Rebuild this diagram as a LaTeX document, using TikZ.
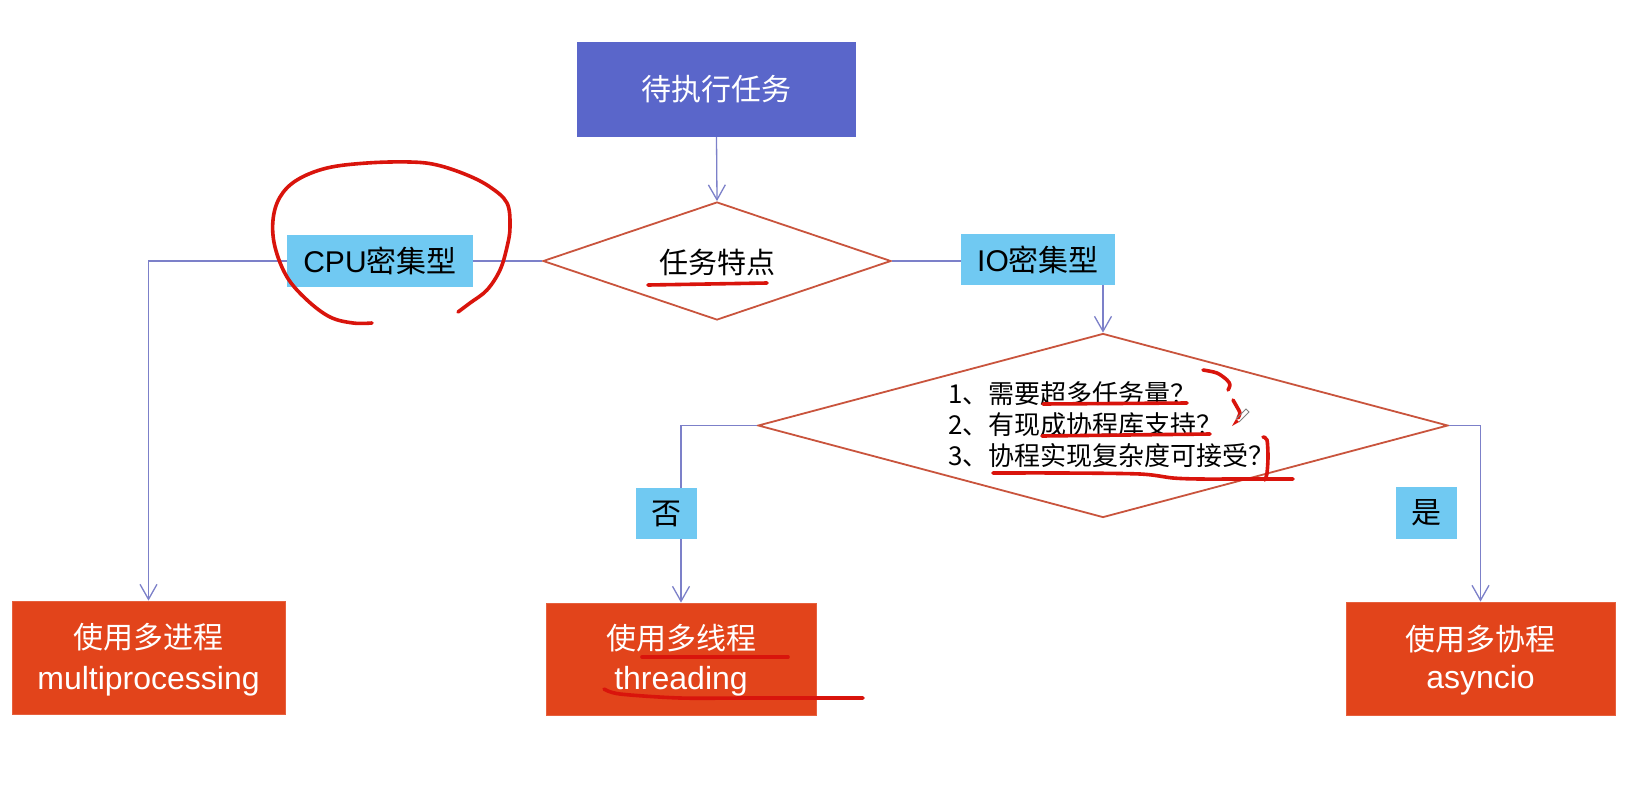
\documentclass[tikz,border=0pt]{standalone}
\usepackage{fontspec}
\setmainfont{Liberation Sans}
\newfontfamily\cjk{Noto Sans CJK SC}
\usetikzlibrary{shapes.geometric,arrows.meta,calc}
\definecolor{taskblue}{HTML}{5A66CA}
\definecolor{tagblue}{HTML}{70C9F2}
\definecolor{boxred}{HTML}{E2441B}
\definecolor{dstroke}{HTML}{C9543D}
\definecolor{connc}{HTML}{7C80C9}
\definecolor{penred}{HTML}{D9140C}
\begin{document}
\begin{tikzpicture}[x=1pt,y=-1pt,
  line/.style={draw=connc,line width=1.3pt},
  arr/.style={line,-{Straight Barb[length=15pt,width=17pt]}},
  decision/.style={shape=diamond,draw=dstroke,line width=1.8pt,fill=white,inner sep=0pt},
  tag/.style={fill=tagblue,inner sep=0pt,font=\fontsize{30}{36}\selectfont,text=black},
  outbox/.style={fill=boxred,draw=boxred!85!white,line width=0.8pt,inner sep=0pt},
  cjkw/.style={text=white,inner sep=0pt,font=\cjk\fontsize{30}{36}\selectfont},
  latw/.style={text=white,inner sep=0pt,anchor=base,font=\fontsize{32}{38}\selectfont},
  qtext/.style={anchor=west,inner sep=0pt,text=black,font=\cjk\fontsize{26}{30}\selectfont},
  pen/.style={draw=penred,line width=3.6pt,line cap=round,line join=round}]
\useasboundingbox (0,0) rectangle (1630,798);
\fill[white] (0,0) rectangle (1630,798);

% main shapes
\node[fill=taskblue,inner sep=0pt,minimum width=279pt,minimum height=95pt,text=white,font=\cjk\fontsize{30}{36}\selectfont] (task) at (716.5,89.5) {待执行任务};
\node[decision,minimum width=348pt,minimum height=118pt] (d1) at (717,261) {};
\node[decision,minimum width=690pt,minimum height=184pt] (d2) at (1103,425.5) {};
\node[outbox,minimum width=273pt,minimum height=113pt] (mp) at (148.5,657.5) {};
\node[outbox,minimum width=270pt,minimum height=112pt] (th) at (681,659) {};
\node[outbox,minimum width=269pt,minimum height=113pt] (as) at (1480.5,658.5) {};

% connectors
\draw[arr] (task.south) -- (d1.north);
\draw[arr] (d1.west) -- (d1.west -| mp.north) -- (mp.north);
\draw[arr] (d1.east) -- (d1.east -| d2.north) -- (d2.north);
\draw[arr] (d2.west) -- (d2.west -| th.north) -- (th.north);
\draw[arr] (d2.east) -- (d2.east -| as.north) -- (as.north);

% texts
\node[inner sep=0pt,text=black,font=\cjk\fontsize{29}{34}\selectfont] (d1t) at (717,262) {任务特点};
\node[qtext] (q1) at (948,394) {1、需要超多任务量？};
\node[qtext] (q2) at (948,425) {2、有现成协程库支持？};
\node[qtext] (q3) at (948,456) {3、协程实现复杂度可接受？};

\node[tag,minimum width=186pt,minimum height=52pt] (cpu) at (380,261) {CPU{\cjk 密集型}};
\node[tag,minimum width=154pt,minimum height=51pt] (io) at (1038,259.5) {IO{\cjk 密集型}};
\node[tag,minimum width=61pt,minimum height=51pt,font=\cjk\fontsize{30}{36}\selectfont] (no) at (666.5,513.5) {否};
\node[tag,minimum width=61pt,minimum height=52pt,font=\cjk\fontsize{30}{36}\selectfont] (yes) at (1426.5,513) {是};

\node[cjkw] (mp1) at (148.5,637) {使用多进程};
\node[latw] (mp2) at (148.5,689) {multiprocessing};
\node[cjkw] (th1) at (681,638) {使用多线程};
\node[latw] (th2) at (681,689) {threading};
\node[cjkw] (as1) at (1480.5,639) {使用多协程};
\node[latw] (as2) at (1480.5,688) {asyncio};

% hand-drawn red annotations
\draw[pen] plot[smooth,tension=0.6] coordinates {(372,323) (353,323) (330,317) (307,300) (287,277) (275,247) (273,220) (280,197) (297,180) (327,168) (367,163) (410,162) (437,165) (467,175) (490,187) (507,203) (510,227) (507,247) (500,270) (487,290) (470,303) (458,312)};
\draw[pen] (648,285) -- (767,283);
\draw[pen] (1043,404) -- (1187,403);
\draw[pen] (1042,436) -- (1210,434);
\draw[pen] plot[smooth,tension=0.5] coordinates {(993,473) (1063,473) (1140,474) (1173,478) (1200,479) (1240,479) (1293,479)};
\draw[pen] plot[smooth] coordinates {(1203,370) (1217,373) (1227,380) (1230,385) (1228,390)};
\draw[pen] plot[smooth] coordinates {(1233,400) (1237,407) (1240,413) (1238,418)};
\draw[pen] plot[smooth] coordinates {(1263,437) (1267,440) (1268,457) (1267,473) (1265,480)};
\draw[pen] (642,657) -- (788,657);
\draw[pen] plot[smooth,tension=0.5] coordinates {(604,689) (620,694) (680,698) (750,698) (863,698)};
% pencil cursor
\draw[gray,line width=0.8pt] (1236,419) -- (1246,409) -- (1249,412) -- (1239,422);
\fill[penred] (1236,419) -- (1239,422) -- (1232,426) -- cycle;
\end{tikzpicture}
\end{document}
